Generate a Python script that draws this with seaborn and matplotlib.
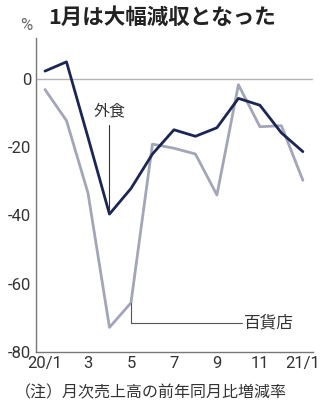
import matplotlib
matplotlib.use("Agg")
import matplotlib.pyplot as plt
import seaborn as sns
import pandas as pd
from matplotlib.ticker import FixedLocator

months = list(range(1, 14))
gaishoku = [2.3, 5.0, -17.1, -39.6, -32.1, -22.0, -14.9, -16.8, -14.3, -5.7, -7.7, -15.8, -21.3]
hyakkaten = [-3.1, -12.2, -33.4, -72.8, -65.6, -19.1, -20.3, -22.0, -34.0, -1.7, -14.0, -13.7, -29.7]
tick_pos = [1, 3, 5, 7, 9, 11, 13]
tick_labels = ["20/1", "3", "5", "7", "9", "11", "21/1"]
yticks = [0, -20, -40, -60, -80]
series_names = ["外食", "百貨店"]

df = pd.DataFrame({
    "month": months * 2,
    "value": gaishoku + hyakkaten,
    "series": [series_names[0]] * len(months) + [series_names[1]] * len(months),
})

sns.set_style("white")
plt.rcParams['font.family'] = ['Noto Sans CJK JP', 'DejaVu Sans']

num_family = ['Roboto', 'DejaVu Sans']

fig = plt.figure(figsize=(3.24, 4.11), dpi=100)
ax = fig.add_axes([0.111, 0.1436, 0.855, 0.764])

ax.axhline(0, color="#b4b4b4", lw=1.0, zorder=1)
palette = {series_names[0]: "#1b2654", series_names[1]: "#a3a5b8"}
sns.lineplot(data=df, x="month", y="value", hue="series", palette=palette,
             hue_order=[series_names[1], series_names[0]],
             lw=2.0, ax=ax, legend=False)

ax.set_xlim(0.58, 13.47)
ax.set_ylim(-80, 12)
ax.set_xlabel("")
ax.set_ylabel("")

for s in ["top", "right"]:
    ax.spines[s].set_visible(False)
for s in ["left", "bottom"]:
    ax.spines[s].set_color("#777777")
    ax.spines[s].set_linewidth(1.0)

numfont = dict(family=num_family, size=12, color="#333333")
ax.set_xticks(tick_pos)
ax.set_xticklabels(tick_labels, fontdict=numfont)
ax.xaxis.set_minor_locator(FixedLocator(months))
ax.tick_params(axis="x", which="both", direction="in", length=3, width=0.8, color="#777777", pad=3)
ax.set_yticks(yticks)
ax.set_yticklabels([str(v) for v in yticks], fontdict=numfont)
ax.tick_params(axis="y", direction="out", length=2.5, width=0.8, color="#777777", pad=1)

# annotations
ax.plot([4, 4], [gaishoku[3], -13.5], color="#333333", lw=0.8)
ax.text(4.0, -9.5, series_names[0], ha="center", va="center", fontsize=11.5, color="#333333")
ax.plot([5, 5, 10.15], [hyakkaten[4], -71.5, -71.5], color="#555555", lw=0.8)
ax.text(10.25, -71.5, series_names[1], ha="left", va="center", fontsize=12, color="#333333")

fig.text(0.082, 0.938, "%", ha="center", va="center", fontsize=12, color="#666666",
         family=num_family)
fig.text(0.148, 0.958, "1月は大幅減収となった", ha="left", va="center", fontsize=15.5,
         fontweight="bold", color="#222222")
fig.text(0.046, 0.043, "（注）月次売上高の前年同月比増減率", ha="left", va="center",
         fontsize=11.5, color="#333333")

fig.savefig("out.png", dpi=100)
